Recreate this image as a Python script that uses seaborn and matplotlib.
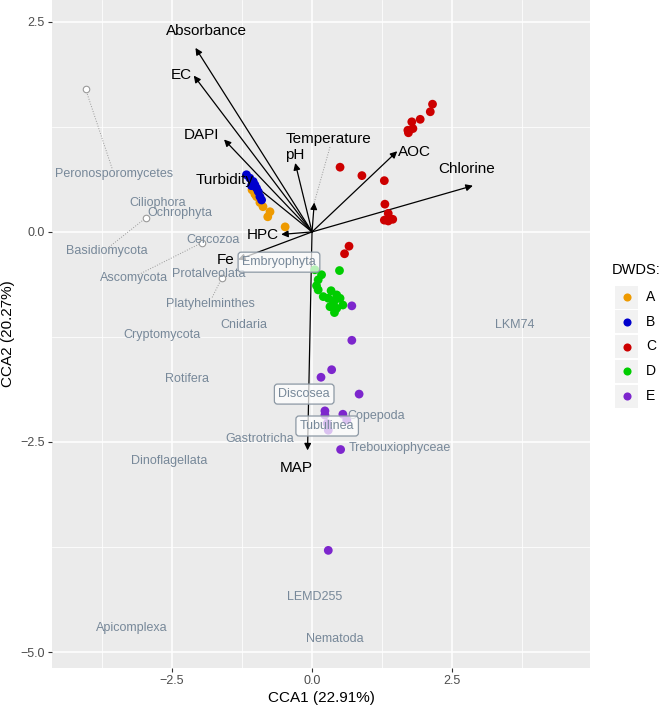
import matplotlib
matplotlib.use("Agg")
import matplotlib.pyplot as plt
import seaborn as sns
import pandas as pd

# ---------------- data ----------------
groups = ["A", "B", "C", "D", "E"]
group_colors = ["#EE9A00", "#0000CD", "#CD0000", "#00CD00", "#7D26CD"]

site_A_x = [-1.07, -1.02, -0.99, -0.93, -0.875, -0.75, -0.79, -0.48]
site_A_y = [0.50, 0.45, 0.42, 0.35, 0.30, 0.24, 0.18, 0.06]
site_B_x = [-1.17, -1.11, -1.05, -1.02, -0.99, -0.96, -0.93, -0.90, -1.08]
site_B_y = [0.68, 0.64, 0.60, 0.56, 0.52, 0.48, 0.42, 0.38, 0.55]
site_C_x = [2.15, 2.11, 1.93, 1.78, 1.80, 1.71, 1.72, 0.50, 0.89, 1.29, 1.30,
            1.36, 1.29, 1.36, 1.44, 0.66, 0.58]
site_C_y = [1.52, 1.43, 1.34, 1.31, 1.23, 1.21, 1.18, 0.77, 0.67, 0.61, 0.33,
            0.22, 0.14, 0.13, 0.15, -0.17, -0.26]
site_D_x = [0.05, 0.49, 0.17, 0.11, 0.08, 0.11, 0.20, 0.29, 0.34, 0.44, 0.50,
            0.41, 0.55, 0.32, 0.44, 0.40, 0.38]
site_D_y = [-0.45, -0.46, -0.51, -0.57, -0.64, -0.69, -0.77, -0.79, -0.70, -0.75,
            -0.79, -0.81, -0.87, -0.89, -0.91, -0.96, -0.85]
site_E_x = [0.71, 0.71, 0.35, 0.16, 0.84, 0.23, 0.55, 0.23, 0.51, 0.29, 0.27,
            0.62, 0.29]
site_E_y = [-0.88, -1.29, -1.64, -1.73, -1.93, -2.13, -2.17, -2.18, -2.59, -3.79,
            -2.28, -2.24, -2.36]

env_names = ["Absorbance", "EC", "DAPI", "Turbidity", "pH", "Temperature",
             "AOC", "Chlorine", "HPC", "Fe", "MAP"]
env_x = [-2.08, -2.11, -1.57, -1.11, -0.30, 0.04, 1.52, 2.87, -0.55, -1.32, -0.08]
env_y = [2.19, 1.86, 1.10, 0.60, 0.82, 0.35, 0.96, 0.55, -0.03, -0.33, -2.60]
env_label_x = [-1.875, -2.33, -1.98, -1.56, -0.31, 0.30, 1.82, 2.75, -0.875, -1.55, -0.29]
env_label_y = [2.39, 1.87, 1.15, 0.62, 0.92, 1.11, 0.95, 0.75, -0.04, -0.33, -2.81]

species_names = ["Peronosporomycetes", "Ciliophora", "Ochrophyta", "Basidiomycota",
                 "Cercozoa", "Ascomycota", "Protalveolata", "Platyhelminthes",
                 "Cnidaria", "Cryptomycota", "Rotifera", "Gastrotricha",
                 "Dinoflagellata", "Apicomplexa", "LEMD255", "Nematoda",
                 "Copepoda", "Trebouxiophyceae", "LKM74"]
species_x = [-3.53, -2.76, -2.35, -3.67, -1.77, -3.18, -1.84, -1.82, -1.22, -2.67,
             -2.24, -0.93, -2.54, -3.21, 0.05, 0.41, 1.15, 1.56, 3.61]
species_y = [0.69, 0.35, 0.22, -0.23, -0.10, -0.55, -0.50, -0.86, -1.11, -1.23,
             -1.75, -2.46, -2.73, -4.71, -4.34, -4.85, -2.19, -2.57, -1.11]

# repelled species: original point and segment end
rep_names = ["Peronosporomycetes", "Basidiomycota", "Ascomycota", "Platyhelminthes"]
rep_x = [-4.04, -2.96, -1.97, -1.61]
rep_y = [1.70, 0.17, -0.13, -0.55]
rep_end_x = [-3.56, -3.64, -3.10, -1.79]
rep_end_y = [0.74, -0.19, -0.51, -0.79]

boxed_names = ["Embryophyta", "Discosea", "Tubulinea"]
boxed_x = [-0.59, -0.14, 0.27]
boxed_y = [-0.36, -1.93, -2.31]

temp_seg = ([0.04, 0.32], [0.35, 1.01])

x_label = "CCA1 (22.91%)"
y_label = "CCA2 (20.27%)"
legend_title = "DWDS:"

# ---------------- build ----------------
rows = []
for g, xs, ys in zip(groups, [site_A_x, site_B_x, site_C_x, site_D_x, site_E_x],
                     [site_A_y, site_B_y, site_C_y, site_D_y, site_E_y]):
    for a, b in zip(xs, ys):
        rows.append({"CCA1": a, "CCA2": b, "DWDS": g})
sites = pd.DataFrame(rows)

plt.rcParams["font.family"] = ["Liberation Sans", "DejaVu Sans"]

W, H = 665, 708
fig = plt.figure(figsize=(W / 100, H / 100), dpi=100)
L, R, T, B = 52, 590, 0, 668
ax = fig.add_axes([L / W, 1 - B / H, (R - L) / W, (B - T) / H])
ax.set_facecolor("#EBEBEB")
for s in ax.spines.values():
    s.set_visible(False)

ax.set_xlim(-4.64, 4.96)
ax.set_ylim(-5.19, 2.76)
ax.set_xticks([-2.5, 0.0, 2.5])
ax.set_xticks([-3.75, -1.25, 1.25, 3.75], minor=True)
ax.set_yticks([-5.0, -2.5, 0.0, 2.5])
ax.set_yticks([-3.75, -1.25, 1.25], minor=True)
ax.set_xticklabels(["\u22122.5", "0.0", "2.5"])
ax.set_yticklabels(["\u22125.0", "\u22122.5", "0.0", "2.5"])
ax.grid(which="major", color="white", lw=1.1)
ax.grid(which="minor", color="white", lw=0.55)
ax.set_axisbelow(True)
ax.tick_params(which="major", length=3.0, width=0.8, color="#333333",
               labelsize=9, labelcolor="#4D4D4D", pad=2)
ax.tick_params(which="minor", length=0)

# env arrows
for n, tx, ty in zip(env_names, env_x, env_y):
    ax.annotate("", xy=(tx, ty), xytext=(0, 0),
                arrowprops=dict(arrowstyle="-|>", color="black", lw=0.9,
                                mutation_scale=10, shrinkA=0, shrinkB=0),
                zorder=3)

# dotted repel segments
ax.plot(temp_seg[0], temp_seg[1], ls=":", color="#999999", lw=0.7, zorder=2.5)
for px, py, ex, ey in zip(rep_x, rep_y, rep_end_x, rep_end_y):
    ax.plot([px, ex], [py, ey], ls=":", color="#999999", lw=0.7, zorder=2.5)
ax.scatter(rep_x, rep_y, s=22, facecolor="white", edgecolor="#9A9A9A",
           linewidth=0.8, zorder=2.6)

# site points
sns.scatterplot(data=sites, x="CCA1", y="CCA2", hue="DWDS", hue_order=groups,
                palette=dict(zip(groups, group_colors)), s=40, linewidth=0,
                legend=False, ax=ax, zorder=4)
ax.set_xlabel(x_label, fontsize=11, color="black", labelpad=3)
ax.set_ylabel(y_label, fontsize=11, color="black", labelpad=4)

# species labels
for n, sx, sy in zip(species_names, species_x, species_y):
    ax.text(sx, sy, n, fontsize=9, color="#778899", ha="center", va="center",
            zorder=5)
for n, bx, by in zip(boxed_names, boxed_x, boxed_y):
    ax.text(bx, by, n, fontsize=9, color="#778899", ha="center", va="center",
            zorder=6,
            bbox=dict(boxstyle="round,pad=0.32,rounding_size=0.25",
                      fc=(1, 1, 1, 0.72), ec="#8C98A4", lw=0.9))

# env labels
for n, lx, ly in zip(env_names, env_label_x, env_label_y):
    ax.text(lx, ly, n, fontsize=11, color="black", ha="center", va="center",
            zorder=7)

# legend (manual, figure pixel coords)
lax = fig.add_axes([0, 0, 1, 1], facecolor="none")
lax.set_xlim(0, W)
lax.set_ylim(H, 0)
lax.axis("off")
lax.text(612, 270, legend_title, fontsize=10.5, color="black", ha="left", va="center")
key_y0, key_dy = 297, 24.75
for i, (g, c) in enumerate(zip(groups, group_colors)):
    yy = key_y0 + i * key_dy
    lax.add_patch(plt.Rectangle((615, yy - 11.5), 22.5, 23, facecolor="#F2F2F2",
                                edgecolor="none"))
    lax.scatter([626.5], [yy], s=34, color=c, linewidth=0)
    lax.text(646, yy, g, fontsize=10, color="black", ha="left", va="center")

fig.savefig("out.png", dpi=100)
